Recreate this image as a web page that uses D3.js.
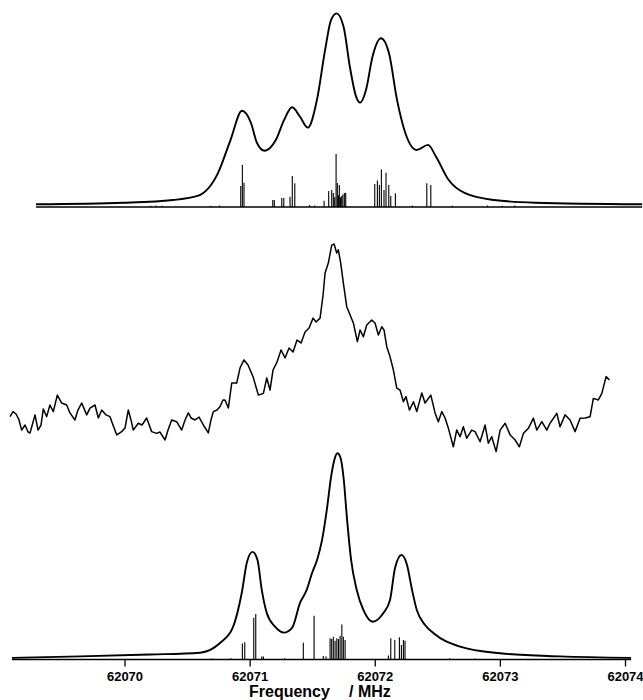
<!DOCTYPE html>
<html>
<head>
<meta charset="utf-8">
<script src="https://cdn.jsdelivr.net/npm/d3@7"></script>
<style>
body { margin: 0; background: #fff; }
text { font-family: "Liberation Sans", Arial, sans-serif; font-weight: bold; fill: #000; }
</style>
</head>
<body>
<div id="wrapper"></div>
<script>
// frequency in MHz, intensity relative to each trace's own baseline/peak

const tickValues = [62070, 62071, 62072, 62073, 62074];

// top simulated envelope
const topEnvelope = [
    [62069.293, 0.014], [62069.992, 0.022], [62070.386, 0.036], [62070.584, 0.057],
    [62070.747, 0.175], [62070.847, 0.345], [62070.939, 0.496], [62071.011, 0.433],
    [62071.059, 0.330], [62071.120, 0.290], [62071.209, 0.345], [62071.275, 0.448],
    [62071.339, 0.514], [62071.403, 0.465], [62071.465, 0.409], [62071.538, 0.552],
    [62071.603, 0.809], [62071.651, 0.964], [62071.695, 0.998], [62071.751, 0.929],
    [62071.801, 0.723], [62071.851, 0.569], [62071.883, 0.538], [62071.930, 0.603],
    [62071.982, 0.775], [62072.050, 0.870], [62072.114, 0.792], [62072.178, 0.552],
    [62072.245, 0.380], [62072.334, 0.294], [62072.426, 0.320], [62072.490, 0.259],
    [62072.591, 0.139], [62072.722, 0.071], [62072.954, 0.036], [62073.281, 0.022],
    [62074.137, 0.014]
];

// top stick spectrum
const topSticks = [
    [62070.929, 0.108], [62070.942, 0.216], [62070.955, 0.125],
    [62071.185, 0.036], [62071.197, 0.036], [62071.257, 0.046], [62071.273, 0.046],
    [62071.323, 0.053], [62071.341, 0.160], [62071.361, 0.122],
    [62071.595, 0.032], [62071.632, 0.082], [62071.656, 0.088], [62071.669, 0.072],
    [62071.680, 0.050], [62071.691, 0.273], [62071.701, 0.124], [62071.710, 0.060],
    [62071.717, 0.113], [62071.727, 0.050], [62071.736, 0.057], [62071.745, 0.065],
    [62071.757, 0.072], [62071.768, 0.074],
    [62072.000, 0.119], [62072.021, 0.136], [62072.037, 0.113], [62072.053, 0.194],
    [62072.074, 0.088], [62072.090, 0.177], [62072.112, 0.113], [62072.128, 0.057],
    [62072.165, 0.071], [62072.416, 0.122], [62072.448, 0.113],
    [62070.210, 0.006], [62070.250, 0.008], [62070.300, 0.006], [62070.690, 0.006],
    [62070.760, 0.008], [62071.480, 0.010], [62071.520, 0.008], [62072.300, 0.008],
    [62072.620, 0.006], [62072.900, 0.008], [62073.020, 0.006], [62073.120, 0.008]
];

// middle experimental trace
const midTrace = [
    [62069.085, 0.197], [62069.109, 0.220], [62069.133, 0.209], [62069.157, 0.182],
    [62069.178, 0.136], [62069.205, 0.159], [62069.229, 0.127], [62069.245, 0.123],
    [62069.285, 0.205], [62069.309, 0.136], [62069.333, 0.159], [62069.351, 0.232],
    [62069.378, 0.197], [62069.404, 0.250], [62069.431, 0.220], [62069.463, 0.295],
    [62069.498, 0.259], [62069.538, 0.250], [62069.564, 0.214], [62069.604, 0.182],
    [62069.628, 0.227], [62069.658, 0.259], [62069.698, 0.205], [62069.724, 0.236],
    [62069.764, 0.250], [62069.791, 0.191], [62069.818, 0.227], [62069.852, 0.205],
    [62069.884, 0.197], [62069.908, 0.159], [62069.938, 0.114], [62069.978, 0.129],
    [62070.004, 0.145], [62070.030, 0.227], [62070.052, 0.182], [62070.070, 0.136],
    [62070.110, 0.167], [62070.140, 0.159], [62070.177, 0.191], [62070.217, 0.129],
    [62070.257, 0.121], [62070.284, 0.127], [62070.324, 0.091], [62070.348, 0.136],
    [62070.377, 0.182], [62070.417, 0.174], [62070.457, 0.136], [62070.484, 0.182],
    [62070.510, 0.214], [62070.532, 0.191], [62070.564, 0.182], [62070.596, 0.195],
    [62070.630, 0.159], [62070.670, 0.123], [62070.691, 0.182], [62070.710, 0.220],
    [62070.739, 0.227], [62070.763, 0.242], [62070.787, 0.273], [62070.803, 0.273],
    [62070.830, 0.236], [62070.857, 0.350], [62070.897, 0.350], [62070.923, 0.418],
    [62070.955, 0.455], [62070.987, 0.432], [62071.027, 0.379], [62071.070, 0.295],
    [62071.110, 0.303], [62071.137, 0.373], [62071.163, 0.318], [62071.187, 0.409],
    [62071.219, 0.445], [62071.251, 0.500], [62071.283, 0.464], [62071.315, 0.509],
    [62071.347, 0.491], [62071.379, 0.545], [62071.411, 0.532], [62071.443, 0.582],
    [62071.475, 0.600], [62071.507, 0.645], [62071.531, 0.627], [62071.563, 0.645],
    [62071.587, 0.750], [62071.603, 0.850], [62071.629, 0.895], [62071.656, 0.977],
    [62071.675, 0.982], [62071.696, 0.941], [62071.709, 0.955], [62071.728, 0.895],
    [62071.749, 0.805], [62071.776, 0.697], [62071.803, 0.659], [62071.829, 0.623],
    [62071.861, 0.538], [62071.883, 0.591], [62071.909, 0.560], [62071.936, 0.614],
    [62071.976, 0.636], [62072.002, 0.623], [62072.029, 0.568], [62072.056, 0.606],
    [62072.074, 0.591], [62072.096, 0.515], [62072.122, 0.470], [62072.149, 0.409],
    [62072.176, 0.327], [62072.202, 0.318], [62072.229, 0.265], [62072.250, 0.288],
    [62072.277, 0.227], [62072.309, 0.265], [62072.336, 0.220], [62072.376, 0.305],
    [62072.402, 0.259], [62072.448, 0.295], [62072.482, 0.214], [62072.508, 0.174],
    [62072.536, 0.220], [62072.562, 0.191], [62072.588, 0.145], [62072.628, 0.060],
    [62072.655, 0.136], [62072.682, 0.106], [62072.708, 0.151], [62072.735, 0.099],
    [62072.775, 0.136], [62072.802, 0.129], [62072.842, 0.083], [62072.882, 0.159],
    [62072.908, 0.076], [62072.935, 0.106], [62072.970, 0.038], [62073.002, 0.136],
    [62073.042, 0.167], [62073.082, 0.114], [62073.122, 0.091], [62073.156, 0.060],
    [62073.188, 0.121], [62073.228, 0.144], [62073.268, 0.190], [62073.295, 0.136],
    [62073.335, 0.174], [62073.375, 0.136], [62073.401, 0.167], [62073.455, 0.212],
    [62073.481, 0.151], [62073.521, 0.205], [62073.561, 0.182], [62073.601, 0.129],
    [62073.641, 0.190], [62073.681, 0.191], [62073.721, 0.197], [62073.747, 0.280],
    [62073.787, 0.273], [62073.815, 0.303], [62073.849, 0.379], [62073.876, 0.364]
];

// bottom simulated envelope
const botEnvelope = [
    [62069.101, 0.008], [62069.644, 0.015], [62070.204, 0.024], [62070.604, 0.033],
    [62070.763, 0.080], [62070.867, 0.157], [62070.937, 0.322], [62070.979, 0.472],
    [62071.023, 0.521], [62071.063, 0.482], [62071.097, 0.337], [62071.137, 0.225],
    [62071.203, 0.159], [62071.275, 0.130], [62071.339, 0.153], [62071.403, 0.274],
    [62071.456, 0.337], [62071.499, 0.419], [62071.539, 0.482], [62071.579, 0.579],
    [62071.619, 0.734], [62071.651, 0.884], [62071.679, 0.971], [62071.701, 0.999],
    [62071.727, 0.976], [62071.751, 0.879], [62071.779, 0.676], [62071.811, 0.482],
    [62071.856, 0.337], [62071.909, 0.240], [62071.984, 0.183], [62072.069, 0.225],
    [62072.122, 0.288], [62072.162, 0.443], [62072.214, 0.506], [62072.258, 0.458],
    [62072.298, 0.337], [62072.336, 0.240], [62072.402, 0.167], [62072.468, 0.128],
    [62072.682, 0.062], [62073.002, 0.030], [62073.481, 0.015], [62074.049, 0.008]
];

// bottom stick spectrum
const botSticks = [
    [62070.942, 0.078], [62070.961, 0.083], [62071.033, 0.202], [62071.049, 0.220],
    [62071.097, 0.014], [62071.110, 0.014], [62071.429, 0.081], [62071.515, 0.212],
    [62071.589, 0.017], [62071.611, 0.014],
    [62071.643, 0.103], [62071.656, 0.099], [62071.669, 0.110], [62071.683, 0.091],
    [62071.697, 0.103], [62071.710, 0.099], [62071.723, 0.114], [62071.737, 0.170],
    [62071.749, 0.110], [62071.763, 0.094],
    [62072.109, 0.019], [62072.128, 0.103], [62072.160, 0.094], [62072.197, 0.108],
    [62072.213, 0.070], [62072.229, 0.094], [62072.242, 0.091],
    [62070.700, 0.005], [62070.850, 0.006], [62071.280, 0.006], [62072.600, 0.006],
    [62072.800, 0.005]
];

const topRange = [62069.293, 62074.137];
const botRange = [62069.101, 62074.049];

const width = 643, height = 700;

const x = d3.scaleLinear().domain([62070, 62074]).range([124.5, 625]);
const yTop = d3.scaleLinear().domain([0, 1]).range([207, 13]);
const yMid = d3.scaleLinear().domain([0, 1]).range([460, 240]);
const yBot = d3.scaleLinear().domain([0, 1]).range([659.5, 453]);

const svg = d3.select("#wrapper")
    .append("svg")
    .attr("width", width)
    .attr("height", height);

function drawSticks(data, y, sw) {
    svg.append("g")
        .selectAll("line")
        .data(data)
        .enter()
        .append("line")
        .attr("x1", d => x(d[0]))
        .attr("x2", d => x(d[0]))
        .attr("y1", y(0))
        .attr("y2", d => y(d[1]))
        .attr("stroke", "#000")
        .attr("stroke-width", sw);
}

function drawLine(data, y, curve, sw) {
    const line = d3.line()
        .x(d => x(d[0]))
        .y(d => y(d[1]))
        .curve(curve);
    svg.append("path")
        .datum(data)
        .attr("d", line)
        .attr("fill", "none")
        .attr("stroke", "#000")
        .attr("stroke-width", sw)
        .attr("stroke-linejoin", "round");
}

// top panel
svg.append("line")
    .attr("x1", x(topRange[0])).attr("x2", x(topRange[1]))
    .attr("y1", yTop(0)).attr("y2", yTop(0))
    .attr("stroke", "#000").attr("stroke-width", 1.5);
drawSticks(topSticks, yTop, 1.1);
drawLine(topEnvelope, yTop, d3.curveMonotoneX, 1.9);

// middle panel
drawLine(midTrace, yMid, d3.curveLinear, 1.5);

// bottom panel
drawSticks(botSticks, yBot, 1.1);
drawLine(botEnvelope, yBot, d3.curveMonotoneX, 1.9);

svg.append("line")
    .attr("x1", x(botRange[0])).attr("x2", x(botRange[1]))
    .attr("y1", yBot(0)).attr("y2", yBot(0))
    .attr("stroke", "#000").attr("stroke-width", 1.7);

const xAxis = d3.axisBottom(x)
    .tickValues(tickValues)
    .tickFormat(d3.format("d"))
    .tickSize(7)
    .tickPadding(5);

const axisG = svg.append("g")
    .attr("transform", `translate(0,${yBot(0)})`)
    .call(xAxis);
axisG.select(".domain").remove();
axisG.selectAll(".tick line").attr("stroke-width", 1.3);
axisG.selectAll("text")
    .style("font-family", "'Liberation Sans', Arial, sans-serif")
    .style("font-weight", "bold")
    .style("font-size", "13px");

svg.append("text")
    .attr("x", 249).attr("y", 697)
    .style("font-size", "16px")
    .text("Frequency");
svg.append("text")
    .attr("x", 349).attr("y", 697)
    .style("font-size", "16px")
    .text("/ MHz");
</script>
</body>
</html>
